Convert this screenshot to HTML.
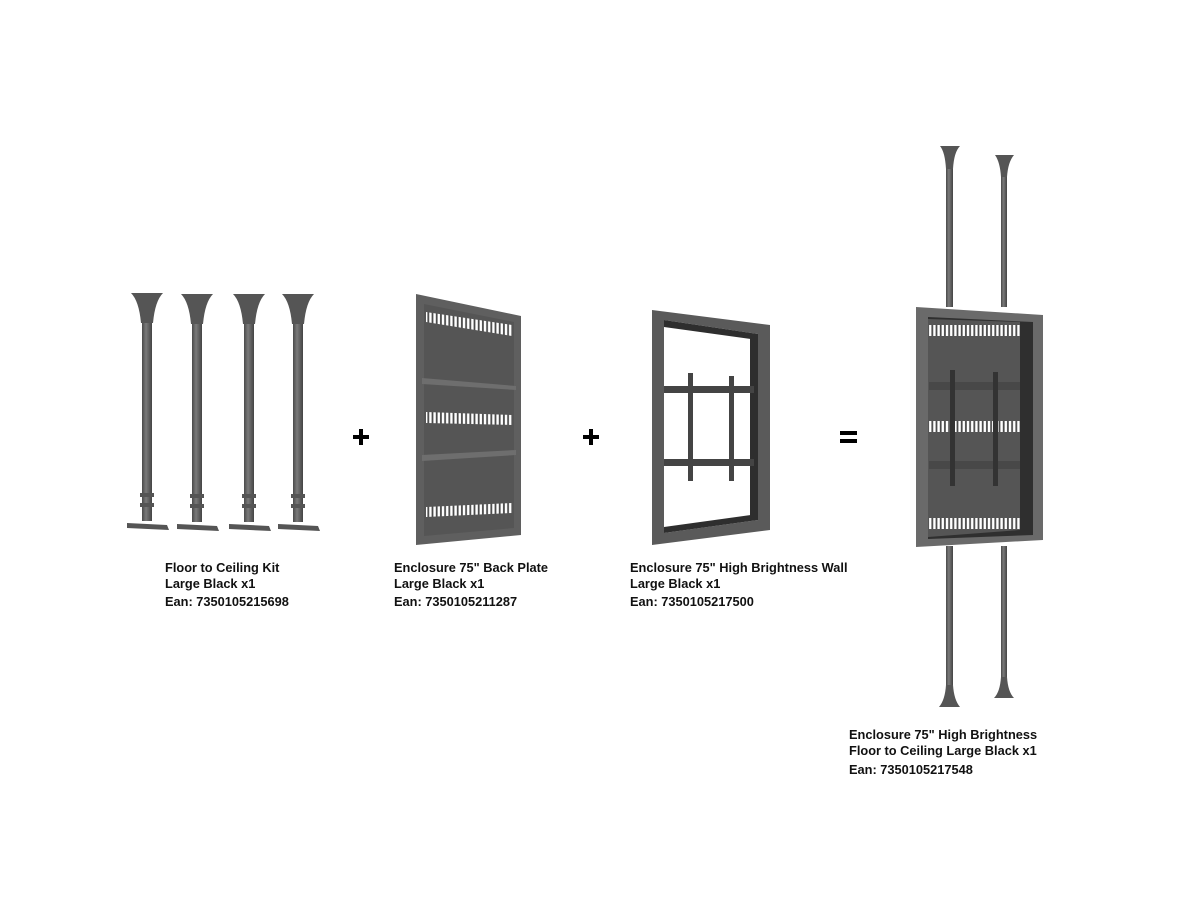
<!DOCTYPE html>
<html><head><meta charset="utf-8"><style>
html,body{margin:0;padding:0;background:#fff;}
svg{display:block}
text{font-family:"Liberation Sans",Arial,sans-serif;font-weight:bold;font-size:12.8px;fill:#111}
</style></head><body>
<svg width="1200" height="900" viewBox="0 0 1200 900" xmlns="http://www.w3.org/2000/svg">
<defs>
<linearGradient id="pole" x1="0" x2="1"><stop offset="0" stop-color="#4a4a4a"/><stop offset="0.4" stop-color="#7a7a7a"/><stop offset="1" stop-color="#444"/></linearGradient>
<pattern id="vent" width="4.2" height="12" patternUnits="userSpaceOnUse"><rect width="4.2" height="12" fill="#4a4a4a"/><rect x="0.8" y="0" width="2.4" height="12" fill="#fff"/></pattern>
<g id="pole4">
  <path d="M-16,0 L16,0 Q8,8 6,30 L-6,30 Q-8,8 -16,0 Z" fill="#555"/>
  <rect x="-5" y="30" width="10" height="198" fill="url(#pole)"/>
  <rect x="-7" y="200" width="14" height="4" fill="#555"/>
  <rect x="-7" y="210" width="14" height="4" fill="#555"/>
  <path d="M-20,230 L20,232 L22,237 L-20,235 Z" fill="#555"/>
</g>
</defs>
<rect width="1200" height="900" fill="#fff"/>

<use href="#pole4" x="147" y="293"/>
<use href="#pole4" x="197" y="294"/>
<use href="#pole4" x="249" y="294"/>
<use href="#pole4" x="298" y="294"/>

<!-- plus / equals -->
<rect x="353" y="435" width="16" height="4" fill="#000"/>
<rect x="359" y="429" width="4" height="16" fill="#000"/>
<rect x="583" y="435" width="16" height="4" fill="#000"/>
<rect x="589" y="429" width="4" height="16" fill="#000"/>
<rect x="840" y="431" width="17" height="4" fill="#000"/>
<rect x="840" y="439" width="17" height="4" fill="#000"/>

<!-- back plate -->
<polygon points="416,294 521,316 521,535 416,545" fill="#5f5f5f"/>
<polygon points="424,304 514,322 514,528 424,536" fill="#555"/>
<polygon points="426,312 512,325 512,336 426,322" fill="url(#vent)"/>
<polygon points="426,412 512,415 512,425 426,423" fill="url(#vent)"/>
<polygon points="426,507 512,503 512,513 426,517" fill="url(#vent)"/>
<polygon points="422,378 516,386 516,390 422,384" fill="#6e6e6e"/>
<polygon points="422,455 516,450 516,455 422,461" fill="#6e6e6e"/>

<!-- wall frame -->
<polygon points="652,310 770,325 770,530 652,545" fill="#5a5a5a"/>
<polygon points="664,320 758,334 758,520 664,533" fill="#fff"/>
<polygon points="664,320 758,334 758,340 664,327" fill="#2e2e2e"/>
<polygon points="664,527 758,514 758,520 664,533" fill="#2e2e2e"/>
<polygon points="750,338 758,334 758,520 750,516" fill="#2e2e2e"/>
<rect x="664" y="386" width="90" height="7" fill="#444"/>
<rect x="664" y="459" width="90" height="7" fill="#444"/>
<rect x="688" y="373" width="5" height="108" fill="#444"/>
<rect x="729" y="376" width="5" height="105" fill="#444"/>

<!-- final assembly poles -->
<path d="M940,146 L960,146 Q954,152 953,169 L946,169 Q945,152 940,146 Z" fill="#555"/>
<rect x="946" y="169" width="7" height="138" fill="url(#pole)"/>
<path d="M995,155 L1014,155 Q1008,162 1007,177 L1001,177 Q1000,162 995,155 Z" fill="#555"/>
<rect x="1001" y="177" width="6" height="130" fill="url(#pole)"/>
<rect x="946" y="546" width="7" height="140" fill="url(#pole)"/>
<path d="M946,685 L953,685 Q954,700 960,707 L939,707 Q945,700 946,685 Z" fill="#555"/>
<rect x="1001" y="546" width="6" height="132" fill="url(#pole)"/>
<path d="M1001,677 L1007,677 Q1008,692 1014,698 L994,698 Q1000,692 1001,677 Z" fill="#555"/>

<!-- final enclosure -->
<polygon points="916,307 1043,315 1043,540 916,547" fill="#6a6a6a"/>
<polygon points="928,317 1033,322 1033,535 928,539" fill="#2f2f2f"/>
<polygon points="928,319 1020,322 1020,530 928,537" fill="#555"/>
<rect x="929" y="325" width="91" height="11" fill="url(#vent)"/>
<rect x="929" y="421" width="91" height="11" fill="url(#vent)"/>
<rect x="929" y="518" width="91" height="11" fill="url(#vent)"/>
<rect x="929" y="382" width="91" height="8" fill="#484848"/>
<rect x="929" y="461" width="91" height="8" fill="#484848"/>
<rect x="950" y="370" width="5" height="116" fill="#333"/>
<rect x="993" y="372" width="5" height="114" fill="#333"/>

<!-- labels -->
<text x="165" y="572">Floor to Ceiling Kit</text>
<text x="165" y="588">Large Black x1</text>
<text x="165" y="606">Ean: 7350105215698</text>

<text x="394" y="572">Enclosure 75" Back Plate</text>
<text x="394" y="588">Large Black x1</text>
<text x="394" y="606">Ean: 7350105211287</text>

<text x="630" y="572">Enclosure 75" High Brightness Wall</text>
<text x="630" y="588">Large Black x1</text>
<text x="630" y="606">Ean: 7350105217500</text>

<text x="849" y="739">Enclosure 75" High Brightness</text>
<text x="849" y="755">Floor to Ceiling Large Black x1</text>
<text x="849" y="774">Ean: 7350105217548</text>
</svg>
</body></html>
